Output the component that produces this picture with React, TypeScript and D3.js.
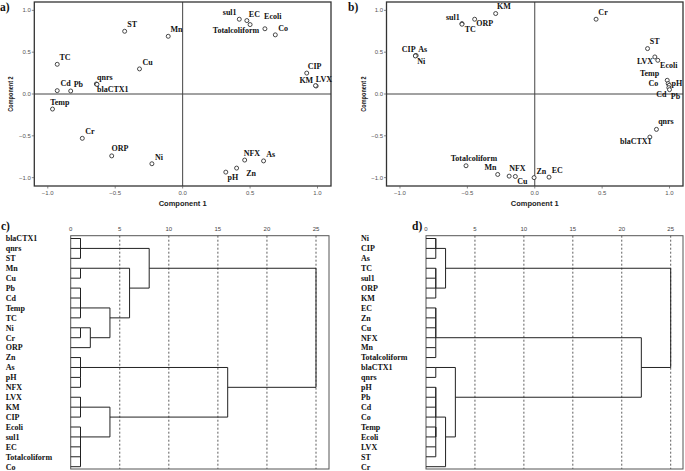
import React, { useRef, useEffect } from 'react'
import * as d3 from 'd3'

// Loading plot a) — variable names and component loadings
const namesA = ['ST', 'Mn', 'TC', 'Cu', 'qnrs', 'blaCTX1', 'Cd', 'Pb', 'Temp', 'Cr', 'ORP', 'Ni', 'sul1', 'EC', 'Ecoli', 'Totalcoliform', 'Co', 'CIP', 'KM', 'LVX', 'NFX', 'As', 'Zn', 'pH']
const comp1A = [-0.43, -0.107, -0.93, -0.32, -0.64, -0.635, -0.93, -0.83, -0.965, -0.744, -0.526, -0.228, 0.42, 0.476, 0.5, 0.61, 0.687, 0.92, 0.99, 0.985, 0.46, 0.6, 0.4, 0.32]
const comp2A = [0.75, 0.69, 0.355, 0.3, 0.12, 0.115, 0.04, 0.036, -0.18, -0.53, -0.74, -0.834, 0.894, 0.878, 0.83, 0.78, 0.707, 0.25, 0.096, 0.1, -0.79, -0.8, -0.886, -0.934]

// Loading plot b)
const namesB = ['KM', 'sul1', 'TC', 'ORP', 'CIP', 'As', 'Ni', 'Cr', 'ST', 'LVX', 'Ecoli', 'Temp', 'Co', 'pH', 'Cd', 'Pb', 'qnrs', 'blaCTX1', 'Totalcoliform', 'Mn', 'NFX', 'Cu', 'Zn', 'EC']
const comp1B = [-0.29, -0.54, -0.54, -0.446, -0.884, -0.88, -0.886, 0.455, 0.837, 0.891, 0.913, 0.983, 0.99, 0.998, 0.995, 1.0, 0.903, 0.854, -0.51, -0.275, -0.19, -0.144, -0.005, 0.106]
const comp2B = [0.962, 0.842, 0.834, 0.894, 0.459, 0.46, 0.455, 0.894, 0.543, 0.443, 0.403, 0.164, 0.124, 0.104, 0.076, 0.052, -0.423, -0.515, -0.858, -0.962, -0.982, -0.986, -1.0, -0.994]

const axisTicks = [-1, -0.5, 0, 0.5, 1]
const dendroTicks = [0, 5, 10, 15, 20, 25]

// Label placement next to each point: [dx, dy, anchor]
const placeA: Record<string, [number, number, string]> = {
  ST: [2.7, -4.3, 'start'], Mn: [2.3, -4, 'start'], TC: [2.3, -4, 'start'], Cu: [3, -4.3, 'start'],
  qnrs: [0.7, -4.3, 'start'], blaCTX1: [0, 7.3, 'start'], Cd: [3.3, -4.3, 'start'], Pb: [3, -4, 'start'],
  Temp: [-2.3, -4.3, 'start'], Cr: [3, -4.3, 'start'], ORP: [-0.3, -4.7, 'start'], Ni: [3, -4, 'start'],
  sul1: [-2.7, -4, 'end'], EC: [2, -4, 'start'], Ecoli: [14, -5.7, 'start'], Totalcoliform: [-5.7, 4, 'end'],
  Co: [3, -3.7, 'start'], CIP: [1, -4.3, 'start'], KM: [-3, -3, 'end'], LVX: [0.3, -4, 'start'],
  NFX: [-1, -4.3, 'start'], As: [2.7, -4.3, 'start'], Zn: [9.7, 8, 'start'], pH: [1.7, 8.3, 'start'],
}
const placeB: Record<string, [number, number, string]> = {
  KM: [1.3, -5, 'start'], sul1: [-2.3, -4, 'end'], TC: [2.7, 7.7, 'start'], ORP: [1.7, 7, 'start'],
  CIP: [0, -3.7, 'end'], As: [2, -3.7, 'start'], Ni: [2, 8.3, 'start'], Cr: [2.3, -4, 'start'],
  ST: [2.3, -5, 'start'], LVX: [-1.7, 7.3, 'end'], Ecoli: [2.3, 7.7, 'start'], Temp: [-8, -4, 'end'],
  Co: [-10, 2, 'end'], pH: [2.3, 0.3, 'start'], Cd: [-2.3, 9.7, 'end'], Pb: [1.3, 9.3, 'start'],
  qnrs: [1.7, -5, 'start'], blaCTX1: [1.7, 7.3, 'end'], Totalcoliform: [-15.3, -4.7, 'start'],
  Mn: [-1.3, -4.3, 'end'], NFX: [0, -5, 'start'], Cu: [2, 7.7, 'start'], Zn: [2.3, -4, 'start'], EC: [2.7, -4.3, 'start'],
}

// Dendrogram c) — merges as {h: rescaled distance, c: children}
const treeC = {
  h: 25, c: [
    { h: 8, c: [
      { h: 1, c: [{ h: 1, c: ['blaCTX1', 'qnrs'] }, 'ST'] },
      { h: 6, c: [
        { h: 1, c: ['Mn', 'Cu'] },
        { h: 4, c: [
          { h: 1, c: [{ h: 1, c: [{ h: 1, c: ['Pb', 'Cd'] }, 'Temp'] }, 'TC'] },
          { h: 2, c: [{ h: 1, c: ['Ni', 'Cr'] }, 'ORP'] },
        ] },
      ] },
    ] },
    { h: 16, c: [
      { h: 1, c: [{ h: 1, c: ['Zn', 'As'] }, { h: 1, c: ['pH', 'NFX'] }] },
      { h: 4, c: [
        { h: 1, c: [{ h: 1, c: ['LVX', 'KM'] }, 'CIP'] },
        { h: 1, c: [{ h: 1, c: ['Ecoli', 'sul1'] }, { h: 1, c: [{ h: 1, c: ['EC', 'Totalcoliform'] }, 'Co'] }] },
      ] },
    ] },
  ],
}

// Dendrogram d)
const treeD = {
  h: 25, c: [
    { h: 2, c: [
      { h: 1, c: [{ h: 1, c: ['Ni', 'CIP'] }, 'As'] },
      { h: 1, c: [{ h: 1, c: [{ h: 1, c: ['TC', 'sul1'] }, 'ORP'] }, 'KM'] },
    ] },
    { h: 22, c: [
      { h: 1, c: [
        { h: 1, c: [{ h: 1, c: [{ h: 1, c: ['EC', 'Zn'] }, 'Cu'] }, 'NFX'] },
        { h: 1, c: ['Mn', 'Totalcoliform'] },
      ] },
      { h: 3, c: [
        { h: 1, c: ['blaCTX1', 'qnrs'] },
        { h: 2, c: [
          { h: 1, c: [
            { h: 1, c: [{ h: 1, c: ['pH', 'Pb'] }, { h: 1, c: ['Cd', 'Co'] }] },
            { h: 1, c: [{ h: 1, c: ['Temp', 'Ecoli'] }, { h: 1, c: ['LVX', 'ST'] }] },
          ] },
          'Cr',
        ] },
      ] },
    ] },
  ],
}

const serif = 'Liberation Serif, Times New Roman, serif'
const sans = 'Liberation Sans, Arial, sans-serif'

function drawScatter(svg: any, box: any, names: string[], xs: number[], ys: number[], place: any) {
  const x = d3.scaleLinear().domain([-1.1, 1.1]).range([box.left, box.right])
  const y = d3.scaleLinear().domain([-1.1, 1.1]).range([box.bottom, box.top])
  const g = svg.append('g')

  //reference lines through origin
  g.append('line').attr('x1', x(0)).attr('x2', x(0)).attr('y1', box.top).attr('y2', box.bottom)
    .attr('stroke', '#444').attr('stroke-width', 1)
  g.append('line').attr('x1', box.left).attr('x2', box.right).attr('y1', y(0)).attr('y2', y(0))
    .attr('stroke', '#444').attr('stroke-width', 1)

  g.append('rect').attr('x', box.left).attr('y', box.top)
    .attr('width', box.right - box.left).attr('height', box.bottom - box.top)
    .attr('fill', 'none').attr('stroke', '#333').attr('stroke-width', 1.3)

  //ticks
  const fmt = d3.format('.1f')
  axisTicks.forEach((t) => {
    g.append('line').attr('x1', x(t)).attr('x2', x(t)).attr('y1', box.bottom).attr('y2', box.bottom + 2.5)
      .attr('stroke', '#555').attr('stroke-width', 0.7)
    g.append('text').attr('x', x(t)).attr('y', box.bottom + 8.5).attr('text-anchor', 'middle')
      .attr('font-family', sans).attr('font-size', 6).attr('fill', '#555').text(fmt(t))
    g.append('line').attr('x1', box.left - 2.5).attr('x2', box.left).attr('y1', y(t)).attr('y2', y(t))
      .attr('stroke', '#555').attr('stroke-width', 0.7)
    g.append('text').attr('x', box.left - 3.5).attr('y', y(t)).attr('dy', '0.35em').attr('text-anchor', 'end')
      .attr('font-family', sans).attr('font-size', 6).attr('fill', '#555').text(fmt(t))
  })

  g.append('text').attr('x', x(0)).attr('y', box.bottom + 20).attr('text-anchor', 'middle')
    .attr('font-family', sans).attr('font-weight', 'bold').attr('font-size', 7.5).attr('fill', '#222')
    .text('Component 1')
  g.append('text').attr('transform', `translate(${box.titleX},${(box.top + box.bottom) / 2}) rotate(-90) scale(0.74,1)`)
    .attr('text-anchor', 'middle').attr('dy', '0.35em')
    .attr('font-family', sans).attr('font-weight', 'bold').attr('font-size', 7.5).attr('fill', '#222')
    .text('Component 2')

  //points and labels
  const idx = d3.range(names.length)
  g.selectAll('circle.pt').data(idx).join('circle').attr('class', 'pt')
    .attr('cx', (i: number) => x(xs[i])).attr('cy', (i: number) => y(ys[i])).attr('r', 2)
    .attr('fill', 'white').attr('stroke', '#333').attr('stroke-width', 0.9)
  g.selectAll('text.lab').data(idx).join('text').attr('class', 'lab')
    .attr('x', (i: number) => x(xs[i]) + place[names[i]][0])
    .attr('y', (i: number) => y(ys[i]) + place[names[i]][1])
    .attr('text-anchor', (i: number) => place[names[i]][2])
    .attr('font-family', serif).attr('font-weight', 'bold').attr('font-size', 8).attr('fill', '#111')
    .text((i: number) => names[i])
}

function drawDendro(svg: any, box: any, tree: any) {
  const root = d3.hierarchy(tree, (d: any) => (typeof d === 'string' ? null : d.c))
  const leaves = root.leaves().map((d: any) => d.data as string)
  const x = d3.scaleLinear().domain([0, 25]).range([box.left, box.zero25])
  const y = d3.scalePoint().domain(d3.range(leaves.length).map(String)).range([box.rowTop, box.rowBottom])
  const g = svg.append('g')

  //row of each leaf, then row of each merge (midpoint of child rows, floored)
  let n = 0
  root.eachAfter((d: any) => {
    if (!d.children) d.row = n++
    else d.row = Math.floor((d.children[0].row + d.children[1].row) / 2)
    d.h = typeof d.data === 'string' ? 0 : d.data.h
  })

  //dashed gridlines
  dendroTicks.slice(1).forEach((t) => {
    g.append('line').attr('x1', x(t)).attr('x2', x(t)).attr('y1', box.top).attr('y2', box.bottom)
      .attr('stroke', '#333').attr('stroke-width', 0.8).attr('stroke-dasharray', '2,2')
  })
  dendroTicks.forEach((t) => {
    g.append('text').attr('x', x(t)).attr('y', box.top - 5).attr('text-anchor', 'middle')
      .attr('font-family', sans).attr('font-size', 6).attr('fill', '#444').text(t)
  })
  g.append('rect').attr('x', box.left).attr('y', box.top)
    .attr('width', box.right - box.left).attr('height', box.bottom - box.top)
    .attr('fill', 'none').attr('stroke', '#555').attr('stroke-width', 1)

  //links
  const py = (d: any) => y(String(d.row)) as number
  root.each((d: any) => {
    if (!d.children) return
    d.children.forEach((c: any) => {
      g.append('line').attr('x1', x(c.h)).attr('x2', x(d.h)).attr('y1', py(c)).attr('y2', py(c))
        .attr('stroke', '#222').attr('stroke-width', 1)
    })
    g.append('line').attr('x1', x(d.h)).attr('x2', x(d.h))
      .attr('y1', py(d.children[0])).attr('y2', py(d.children[1]))
      .attr('stroke', '#222').attr('stroke-width', 1)
  })

  //leaf names
  leaves.forEach((name: string, i: number) => {
    g.append('text').attr('x', box.labelX).attr('y', y(String(i)) as number).attr('dy', '0.35em')
      .attr('font-family', serif).attr('font-weight', 'bold').attr('font-size', 8).attr('fill', '#111')
      .text(name)
  })
}

function App() {
  const svgRef = useRef(null)

  useEffect(() => {
    const svg = d3.select(svgRef.current)
    svg.selectAll('*').remove()

    drawScatter(svg, { left: 34.3, right: 331, top: 2, bottom: 186, titleX: 10 }, namesA, comp1A, comp2A, placeA)
    drawScatter(svg, { left: 386.5, right: 683, top: 2, bottom: 186, titleX: 363.5 }, namesB, comp1B, comp2B, placeB)

    drawDendro(svg, { left: 70.7, right: 329, zero25: 316, top: 235.7, bottom: 469, rowTop: 238.5, rowBottom: 466.7, labelX: 5.7 }, treeC)
    drawDendro(svg, { left: 426, right: 683, zero25: 670.7, top: 235.7, bottom: 469, rowTop: 238.5, rowBottom: 466.7, labelX: 361 }, treeD)

    //panel letters
    const letters = [['a)', 0, 11], ['b)', 348, 11], ['c)', 1, 230], ['d)', 412, 230]]
    letters.forEach(([t, lx, ly]) => {
      svg.append('text').attr('x', lx).attr('y', ly)
        .attr('font-family', serif).attr('font-weight', 'bold').attr('font-size', 11.5).attr('fill', '#111')
        .text(t as string)
    })
  }, [])

  return (
    <svg
      ref={svgRef}
      width={685}
      height={471}
      style={{ position: 'absolute', left: 0, top: 0, background: 'white' }}
    />
  )
}

export default App
